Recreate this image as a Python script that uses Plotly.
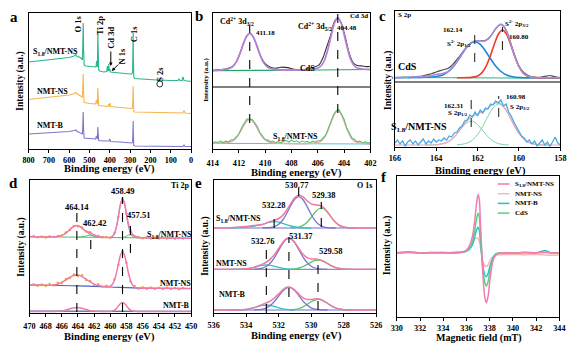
import plotly.graph_objects as go

FONT = "Liberation Serif"
W, H = 584, 348

# ---------------- data ----------------
# (a) survey spectra
a_e_s18 = [800,750,700,650,600,575,568,562,550,540,535,533,531,529,526,520,500,480,468,465,
           463,461,459,457,455,450,430,415,412,410,407,405,403,400,397,380,350,300,292,288,
           286,285,284,282,278,250,200,170,165,160,100,65,60,55,45,40,35,20,0]
a_y_s18 = [87,88,89,90,91.5,93,94.5,92.5,92,90.5,89,104,126,99,84,83,82.5,82,82,88,
           83,82,117,85,79,78,77,77.5,83,78,79,85,78,80,77,76.5,76,75,75,77,
           94,116,89,72,70.5,70,69.5,69,69.5,69,68.5,68.5,70,68.5,68.5,72,68.5,68,67.5]
a_e_ns = [800,750,700,650,600,575,568,560,550,540,535,533,531,529,526,500,470,466,463,461,
          459,457,455,430,410,405,402,399,396,350,300,292,288,286,285,284,282,278,200,100,
          60,40,35,30,0]
a_y_ns = [49.5,50.5,51.5,52.5,54,55.5,56.5,55,54,53,52,61,75,57,46.5,45.5,45,49,45,45,
          61,47,43.5,43,42.5,45,42.5,46,42.5,41.5,40.5,40.5,42,51,63,49,37.5,37,36.5,36.5,
          36,36,38.5,36,35.5]
a_e_b = [800,750,700,650,600,575,568,560,550,540,535,533,531,529,526,500,470,466,463,461,
         459,457,455,430,405,400,397,350,300,292,288,286,285,284,282,278,200,100,40,35,30,0]
a_y_b = [15,15.5,16,16.5,17.5,18.5,19,17.5,16.5,15.5,15,23,37,19,11,10.5,10,13,10,10,
         22,11,8.5,8,8,10,7.5,7,6,6,7,16,28,13,3.5,3,3,3,2.5,4,2.5,2.5]
a_labels = ["O 1s", "Ti 2p", "Cd 3d", "N 1s", "C 1s", "S 2s"]

# (b) Cd 3d
b_peaks = [411.18, 404.48]
b_e_fit = [414,413.5,413.18,412.68,412.43,412.18,411.93,411.68,411.43,411.18,410.93,410.68,410.43,
           410.18,409.93,409.68,409.18,408.5,407,405.98,405.73,405.48,405.23,404.98,404.73,404.48,
           404.23,403.98,403.73,403.48,403.23,402.98,402.48,402]
b_y_fit = [78.4,78.9,79.3,80.8,83.1,87.6,95.3,104.6,112.5,115.6,112.5,104.6,95.3,87.6,83.1,80.8,
           79.4,79.0,79.0,81,83.5,89,99.7,113.5,126,131,126,113.5,99.7,89,83.5,81,79.8,79.5]
b_e_raw = [414,413.5,413,412.5,412.2,411.9,411.6,411.4,411.18,410.9,410.6,410.3,410.0,409.6,409.2,
           408.8,408.3,407.8,407.3,406.8,406.3,405.9,405.6,405.3,405.0,404.75,404.48,404.2,403.9,
           403.6,403.3,403.0,402.6,402.3,402]
b_y_raw = [78.6,79.2,79.9,82.2,87.3,96.5,107.6,113,115.8,111.8,102,91.5,85.3,81.8,80.8,81.8,81.4,
           79.8,79.2,79.9,81.7,84.2,91.5,103,114.5,127,131.3,125.6,111.5,95.2,86.2,83.6,83,82.4,82.5]
b_e_bg = [414,410,406,402]
b_y_bg = [78.3,78.7,79.0,79.5]
b_e_bg2 = [414,402]
b_y_bg2 = [5.7,5.0]
b_e_fit2 = [414,413.18,412.68,412.43,412.18,411.93,411.68,411.43,411.18,410.93,410.68,410.43,410.18,
            409.93,409.68,409.18,407,405.98,405.73,405.48,405.23,404.98,404.73,404.48,404.23,403.98,
            403.73,403.48,403.23,402.98,402.48,402]
b_y_fit2 = [5.7,6.1,7.0,8.5,11.5,16.4,22.4,27.5,29.5,27.5,22.3,16.3,11.4,8.4,6.9,6.0,5.3,6.5,8.1,
            11.6,18.3,27.1,35.0,38.2,35.0,27.1,18.2,11.5,8.0,6.4,5.5,5.0]
b_e_raw2 = [414.0,413.8,413.6,413.4,413.2,413.0,412.8,412.6,412.4,412.2,412.0,411.8,411.6,411.4,
            411.2,411.0,410.8,410.6,410.4,410.2,410.0,409.8,409.6,409.4,409.2,409.0,408.8,408.6,
            408.4,408.2,408.0,407.8,407.6,407.4,407.2,407.0,406.8,406.6,406.4,406.2,406.0,405.8,
            405.6,405.4,405.2,405.0,404.8,404.6,404.4,404.2,404.0,403.8,403.6,403.4,403.2,403.0,
            402.8,402.6,402.4,402.2,402.0]
b_y_raw2 = [6.0,7.2,6.5,7.8,6.4,7.9,7.1,9.2,9.3,12.8,15.2,21.3,25.0,29.9,30.0,29.8,26.1,22.5,16.1,
            13.0,9.5,8.9,7.2,8.0,6.4,7.5,6.2,7.9,8.4,7.0,8.8,7.3,8.2,6.6,7.9,7.0,7.6,6.3,7.8,6.9,
            8.3,8.4,11.0,13.8,20.6,27.0,34.3,38.1,39.5,35.1,29.7,21.0,15.8,10.9,9.6,7.2,7.9,6.3,
            7.1,5.9,6.8]

# (c) S 2p
c_peaks_cds = [162.14, 160.80]
c_peaks_s18 = [162.31, 160.98]
c_e_bg = [166,158]
c_y_bg = [69.5,68.8]
c_e_p1 = [166,164.5,164.0,163.68,163.38,163.14,162.88,162.64,162.38,162.14,161.9,161.64,161.4,
          161.14,160.9,160.6,160.3,160.0,158]
c_y_p1 = [69.3,69.7,70.5,72,76,81.3,89,96.6,103.1,105.3,103.1,96.6,89,81.3,76,72,70.2,69.5,69.3]
c_e_p2 = [163,162.3,162.0,161.8,161.6,161.4,161.2,161.0,160.8,160.6,160.4,160.2,160.0,159.8,159.6,
          159.3,158]
c_y_p2 = [69.3,69.6,71.1,74.1,80.3,90.2,102.3,112.8,117,112.8,102.3,90.2,80.3,74.1,71.1,69.6,69.3]
c_e_env = [166,165.5,165,164.5,164.0,163.68,163.38,163.14,162.88,162.64,162.38,162.14,161.9,161.64,
           161.4,161.14,160.9,160.8,160.6,160.4,160.2,160.0,159.8,159.6,159.3,158]
c_y_env = [69.5,69.8,70.3,70.5,72.5,73.5,76,81.3,89,96.6,103.2,106,106.1,106,109.9,117.9,122.6,122,
           115.5,103.2,90.5,80.3,74.1,71.1,69.6,69.3]
c_e_raw = [166,165.6,165.2,164.8,164.5,164.2,164.0,163.7,163.4,163.14,162.9,162.64,162.38,162.14,
           161.9,161.64,161.4,161.14,160.9,160.8,160.6,160.4,160.2,160.0,159.8,159.5,159.2,159.0,
           158.7,158.5,158.3,158]
c_y_raw = [69.4,69.6,69.5,70.5,72,73.5,75,77,79,84,90,97,103,105.5,106.5,106.5,110,118,122.5,122,
           116,104,91,81,75,71,69.7,69.5,70.8,71.5,70.5,69.5]
c_e_env2 = [166,164.5,164,163.5,163.25,163.0,162.75,162.5,162.25,162.0,161.75,161.5,161.25,161.0,
            160.75,160.5,160.25,160.0,159.75,159.5,159.25,159.0,158]
c_y_env2 = [2,2,2.2,4.4,7.6,13.2,20.2,26.6,30.8,32.9,35.2,38.9,43,44.4,40.7,32.4,22.3,13.6,7.6,4.3,
            2.8,2.2,2]
c_e_a = [163,162.75,162.5,162.25,162.0,161.75,161.5,161.25,161.0,160.75,160.5,160.25,160.0,159.75,
         159.5,159.25,159,158.5]
c_y_a = [2.2,2.7,4,6.9,12.4,20.8,30.7,39.2,43,40.3,32.3,22.3,13.6,7.6,4.3,2.8,2.2,2]
c_e_b = [164.5,164.0,163.5,163.25,163.0,162.75,162.5,162.25,162.0,161.75,161.5,161.25,161.0,160.75,
         160.5]
c_y_b = [2,2.2,4.4,7.6,13,19.5,24.6,25.9,22.5,16.4,10.2,5.8,3.4,2.4,2]
c_e_raw2 = [166.0,165.875,165.75,165.625,165.5,165.375,165.25,165.125,165.0,164.875,164.75,164.625,
            164.5,164.375,164.25,164.125,164.0,163.875,163.75,163.625,163.5,163.375,163.25,163.125,
            163.0,162.875,162.75,162.625,162.5,162.375,162.25,162.125,162.0,161.875,161.75,161.625,
            161.5,161.375,161.25,161.125,161.0,160.875,160.75,160.625,160.5,160.375,160.25,160.125,
            160.0,159.875,159.75,159.625,159.5,159.375,159.25,159.125,159.0,158.875,158.75,158.625,
            158.5,158.375,158.25,158.125,158.0]
c_y_raw2 = [4,7,3,6,1,5,7,3,6,2,5,8,3,6,4,8,5,7,6,9,7,11,10,14,15,19,21,26,27,32,30,35,31,37,34,39,
            38,43,42,46,44,47,41,43,35,31,25,20,16,11,9,5,7,3,6,1,4,7,2,5,0.5,6,10,4,2]

# (d) Ti 2p
d_peaks = [464.14, 462.42, 458.49, 457.51]
d_e_env1 = [470,468,467,466.64,466.14,465.64,465.14,464.64,464.14,463.64,463.14,462.64,462.14,461.64,
            461.14,460.5,460,459.74,459.49,459.24,458.99,458.74,458.49,458.24,457.99,457.74,457.49,
            457.24,456.99,456.5,455,450]
d_y_env1 = [76.3,76.1,76.3,76.3,77.2,79.1,82.5,86.0,87.5,85.9,82.4,80.8,78.7,76.8,76.0,75.5,75.6,76.6,
            79.4,86.1,97.2,109.0,114.1,109.7,98.7,88.6,82.2,78.9,76.9,75.4,75.1,74.7]
d_e_c464 = [468,467,466.64,466.14,465.64,465.14,464.64,464.14,463.64,463.14,462.64,462.14,461.64,
            461.14,460.5]
d_y_c464 = [76.1,76.2,76.3,77.2,79.1,82.5,86.0,87.5,85.9,82.4,79.0,76.9,75.9,75.7,75.5]
d_e_c462 = [464,463.5,463,462.7,462.42,462.1,461.8,461.3,460.8]
d_y_c462 = [75.8,76.2,77.0,77.5,77.7,77.5,76.9,76.1,75.8]
d_e_c458 = [460.5,460,459.74,459.49,459.24,458.99,458.74,458.49,458.24,457.99,457.74,457.49,457.24,
            456.99,456.5]
d_y_c458 = [75.5,75.7,76.6,79.4,86.1,97.2,109.0,114.1,109.0,97.1,86.0,79.2,76.5,75.5,75.2]
d_e_c457 = [459,458.5,458.2,457.9,457.51,457.2,456.9,456.5,456]
d_y_c457 = [75.3,75.5,76.1,77.3,78.3,77.6,76.4,75.5,75.3]
d_e_bg1 = [470,450]
d_y_bg1 = [76.3,74.7]
d_e_env2 = [470,468,467.64,467.14,466.64,466.14,465.64,465.14,464.64,464.14,463.64,463.14,462.64,
            462.14,461.64,461.14,460.64,460.0,459.74,459.49,459.24,458.99,458.74,458.49,458.24,457.99,
            457.74,457.49,457.24,456.99,456.5,455,450]
d_y_env2 = [28,27.7,27.7,28.0,28.6,30.1,32.3,35.0,37.3,38.1,37.1,34.6,31.8,29.4,27.8,27.0,26.4,26.9,
            28.7,32.7,39.9,49.4,57.9,61.3,57.7,49.1,39.4,32.1,27.9,25.9,25.0,24.7,24.5]
d_e_bg2 = [470,464,460,456,450]
d_y_bg2 = [28,27.2,26,24.8,24.5]
d_e_dots = [469.5,469.0,468.5,468.0,467.5,467.0,466.5,466.0,465.5,465.0,464.5,464.0,463.5,463.0,462.5,
            462.0,461.5,461.0,460.5,460.0,459.5,459.0,458.5,458.0,457.5,457.0,456.5,456.0,455.5,455.0,
            454.5,454.0,453.5,453.0,452.5,452.0,451.5,451.0]
d_y_dots1 = [76.9,75.7,76.6,75.5,76.8,75.9,77.1,77.2,80.6,83.0,87.0,86.6,85.6,81.4,80.8,77.7,77.2,75.4,
             76.1,75.1,79.9,96.2,114.6,99.6,82.6,76.5,76.0,74.7,75.7,74.6,75.6,74.5,75.4,74.4,75.3,
             74.3,75.1,74.4]
d_y_dots2 = [28.8,27.2,28.5,27.0,28.9,27.6,30.2,30.0,34.1,35.0,38.6,37.0,37.7,33.0,32.0,28.0,28.7,26.0,
             27.2,26.1,33.4,48.2,61.8,50.3,31.6,26.9,24.2,25.7,24.0,25.4,24.0,25.3,23.9,25.2,24.0,25.1,
             23.8,24.9]
d_e_env3 = [470,467,466.14,465.64,465.14,464.64,464.14,463.64,463.14,462.64,462.14,461.14,460,459.49,
            459.24,458.99,458.74,458.49,458.24,457.99,457.74,457.49,457.0,455,450]
d_y_env3 = [1.5,1.5,1.9,2.6,3.8,5.0,5.5,5.0,3.8,2.6,1.9,1.5,1.6,2.8,4.5,7.1,9.5,10.5,9.5,7.1,4.5,2.8,
            1.7,1.5,1.5]
d_e_bg3 = [470,450]
d_y_bg3 = [1.8,1.6]
d_series = ["S<sub>1.8</sub>/NMT-NS", "NMT-NS", "NMT-B"]

# (e) O 1s
e_peaks_s18 = [532.28, 530.77, 529.38]
e_peaks_ns = [532.76, 531.37, 529.58]
e_e_env1 = [536,535,534.5,534,533.5,533,532.75,532.5,532.25,532,531.75,531.5,531.25,531,530.75,530.5,
            530.25,530,529.75,529.5,529.25,529,528.75,528.5,528.25,528,527.75,527,526]
e_y_env1 = [85,85.3,85.8,86.5,87.5,88.6,90.0,91.5,92.7,94.5,97.6,103.0,109.6,115.4,117.7,116.0,112.2,
            109.1,108.2,107.7,105.7,101.2,95.4,90.6,87.5,85.9,85.3,85,85]
e_e_p1 = [533,532.5,532.25,532,531.75,531.5,531.25,531,530.75,530.5,530.25,530,529.75,529.5,529.25,
          529,528.5]
e_y_p1 = [85.1,85.5,86.4,88.7,93.0,99.7,107.6,114.0,116.3,113.2,106.4,98.5,92.2,88.2,86.2,85.4,85.0]
e_e_g1 = [531.25,531,530.75,530.5,530.25,530,529.75,529.5,529.25,529,528.75,528.5,528.25,528,527.75,
          527.25]
e_y_g1 = [85.1,85.3,85.9,87.6,90.8,95.6,101.0,104.5,104.5,100.8,95.4,90.6,87.5,85.9,85.3,85.0]
e_e_c1 = [535,534.5,534,533.5,533,532.75,532.5,532.25,532,531.75,531.5,531.25,531,530.75,530.5,530]
e_y_c1 = [85.2,85.5,86.0,87.0,88.6,90.0,91.0,91.3,90.8,89.6,88.3,87.0,86.1,85.5,85.2,85.0]
e_e_env = [536,535,534.5,534,533.5,533.25,533,532.75,532.5,532.25,532,531.75,531.5,531.25,531,530.75,
           530.5,530.25,530,529.75,529.5,529.25,529,528.75,528.5,528.25,528,527.5,526]
e_y_env2 = [43.7,43.7,43.8,44.2,45.8,47.2,48.9,51.0,54.1,58.7,64.6,70.6,74.6,74.5,70.4,64.3,58.7,55.3,
            54.0,53.9,53.3,51.7,49.5,47.2,45.5,44.5,44.0,43.7,43.7]
e_y_env3 = [3,3,3.1,3.6,5.4,6.9,8.6,10.2,12.2,15.3,19.1,23.2,25.8,25.5,22.8,18.6,15.1,13.5,13.5,14.1,
            13.9,12.2,9.7,7.0,5.1,3.9,3.3,3,3]
e_e_p = [533.5,533,532.75,532.5,532.25,532,531.75,531.5,531.25,531,530.75,530.5,530.25,530,529.75,
         529.5,529]
e_y_p2 = [43.8,44.9,46.7,50.2,55.7,62.7,69.6,74.1,74.2,69.9,63.0,55.9,50.4,46.8,45.0,44.1,43.7]
e_y_p3 = [3.1,3.9,5.2,7.7,11.8,16.9,22.0,25.2,25.3,22.2,17.1,11.9,7.9,5.2,3.9,3.3,3.0]
e_e_g = [531.25,531,530.75,530.5,530.25,530,529.75,529.5,529.25,529,528.75,528.5,528.25,528,527.5]
e_y_g2 = [43.8,44.2,45.0,46.5,48.6,50.9,52.6,52.9,51.7,49.5,47.2,45.5,44.5,44.0,43.7]
e_y_g3 = [3.1,3.6,4.5,6.2,8.6,11.3,13.2,13.6,12.2,9.7,7.0,5.1,3.9,3.3,3.0]
e_e_c = [535,534.5,534,533.5,533.25,533,532.75,532.5,532.25,532,531.75,531.5,531.25,531]
e_y_c2 = [43.7,43.8,44.2,45.7,46.8,47.7,48.0,47.6,46.7,45.6,44.7,44.2,43.9,43.7]
e_y_c3 = [3,3.1,3.6,5.3,6.6,7.7,8.0,7.5,6.5,5.2,4.2,3.6,3.2,3.0]
e_e_bg = [536,526]
e_y_bg = [[85,85],[43.7,43.7],[3,3]]

# (f) EPR
f_field = [330,331,332,333,334,335,335.5,335.9,336.2,336.5,336.7,336.85,337.0,337.1,337.2,337.3,337.4,
           337.55,337.7,337.85,338.0,338.2,338.4,338.6,338.9,339.5,340,341,342,342.8,343.3,344]
f_s18 = [64.3,64.8,64.0,64.5,64.2,64.6,64.8,66,70,80,95,112,122.5,118,95,70,45,22,14.3,20,35,52,60,63,
         64,64.3,64.0,64.5,64.3,64.8,64.1,64.3]
f_ns = [64.5,64.6,64.2,64.3,64.5,64.2,64.5,65.5,68,73,78,79,78.7,76,70,62,56,52,50.3,52,56,59.5,61,62,
        62.3,62.5,62.5,62.3,62.5,62,61.8,62]
f_b = [64.0,65.0,64.0,64.3,64.5,64.0,64.5,65.5,67,72,80,86.5,89.7,87,76,63,52,43,40.3,43,50,57,61.5,
       63.5,64,64.3,64,64.4,64.2,66.5,64.0,64.2]
f_cds = [64.3,64.6,64.2,64.4,64.3,64.5,64.7,65.5,68,75,86,97,103.7,100.5,84,67,50,36,31,35,45,55,60.5,
         63,64,64.3,64.1,64.4,64.3,64.6,64.2,64.3]
f_names = ["S<sub>1.8</sub>/NMT-NS", "NMT-NS", "NMT-B", "CdS"]
f_colors = ["#f27db3", "#f4b9b4", "#22c3c9", "#5ccf82"]

# ---------------- figure ----------------
fig = go.Figure()

boxes = {'': (23, 189, 13, 149), '2': (211, 372, 13, 149), '3': (397, 566, 11, 147),
         '4': (24, 189, 180, 313), '5': (212, 378, 180, 313), '6': (399, 565, 176, 317)}
xranges = {'': [800, 0], '2': [414, 402], '3': [166, 158], '4': [470, 450], '5': [536, 526], '6': [330, 344]}
dticks = {'': 100, '2': 2, '3': 2, '4': 2, '5': 2, '6': 2}
standoffs = {'': 0, '2': 3, '3': 0, '4': 2, '5': 1, '6': 0}

for k, (l, r, t, b) in boxes.items():
    fig.layout['xaxis' + k] = dict(
        domain=[l / W, r / W], range=xranges[k], anchor='y' + k,
        showline=True, mirror=True, linecolor='black', linewidth=1,
        ticks='outside', ticklen=3, tickwidth=1, tickcolor='black', dtick=dticks[k],
        tickfont=dict(family=FONT, size=8.2, color='black', weight='bold'),
        showgrid=False, zeroline=False, ticklabelstandoff=standoffs[k])
    fig.layout['yaxis' + k] = dict(
        domain=[1 - b / H, 1 - t / H], range=[0, b - t], anchor='x' + k,
        showline=True, mirror=True, linecolor='black', linewidth=1,
        showticklabels=False, ticks='', showgrid=False, zeroline=False)


def line(ax, x, y, color, width=1.2, shape='spline', dash=None):
    fig.add_trace(go.Scatter(x=x, y=y, mode='lines',
                             line=dict(color=color, width=width, shape=shape, dash=dash, smoothing=0.8),
                             xaxis='x' + ax, yaxis='y' + ax, showlegend=False, hoverinfo='skip'))


def dots(ax, x, y, color, size=2.5):
    fig.add_trace(go.Scatter(x=x, y=y, mode='markers', marker=dict(color=color, size=size),
                             xaxis='x' + ax, yaxis='y' + ax, showlegend=False, hoverinfo='skip'))


def vdash(ax, x, y0, y1, width=1.1):
    fig.add_shape(type='line', xref='x' + ax, yref='y' + ax, x0=x, x1=x, y0=y0, y1=y1,
                  line=dict(color='black', width=width, dash='dash'))


def txt(px, py, s, size=8, angle=0, xanchor='center'):
    fig.add_annotation(x=px / W, y=1 - py / H, xref='paper', yref='paper', text=s, showarrow=False,
                       font=dict(family=FONT, size=size, color='black', weight='bold'),
                       textangle=angle, xanchor=xanchor, yanchor='middle', borderpad=0)


# (a)
line('', a_e_s18, a_y_s18, '#2bb48d', 1.1, 'linear')
line('', a_e_ns, a_y_ns, '#f5b54a', 1.1, 'linear')
line('', a_e_b, a_y_b, '#7d76c9', 1.1, 'linear')

# (b)
line('2', b_e_raw, b_y_raw, '#303030', 1.1)
line('2', b_e_bg, b_y_bg, '#20a86c', 1.2)
line('2', b_e_fit, b_y_fit, '#b583d6', 1.8)
line('2', b_e_bg2, b_y_bg2, '#4cc8ec', 1.2)
line('2', b_e_fit2, b_y_fit2, '#f2a7b8', 1.4)
line('2', b_e_raw2, b_y_raw2, '#5cc46a', 1.1, 'linear')
fig.add_shape(type='line', xref='x2 domain', yref='y2', x0=0, x1=1, y0=62, y1=62,
              line=dict(color='black', width=1))
vdash('2', b_peaks[0], 26, 124)
vdash('2', b_peaks[1], 36, 136)

# (c)
line('3', c_e_raw, c_y_raw, '#4a4a4a', 1.2)
line('3', c_e_bg, c_y_bg, '#2db57a', 1.2)
line('3', c_e_p1, c_y_p1, '#1a88d9', 1.6)
line('3', c_e_p2, c_y_p2, '#ef3a2a', 1.6)
line('3', c_e_env, c_y_env, '#a98bd6', 1.6)
line('3', c_e_a, c_y_a, '#7dd3a8', 1.0)
line('3', c_e_b, c_y_b, '#7dd3a8', 1.0)
line('3', c_e_env2, c_y_env2, '#f0a3b6', 1.2)
line('3', c_e_raw2, c_y_raw2, '#4aa8e6', 1.3, 'linear')
fig.add_shape(type='line', xref='x3 domain', yref='y3', x0=0, x1=1, y0=65, y1=65,
              line=dict(color='black', width=1))
vdash('3', c_peaks_cds[0], 85, 115, 0.9)
vdash('3', c_peaks_cds[1], 97, 120, 0.9)
vdash('3', c_peaks_s18[0], 20, 49, 0.9)
vdash('3', c_peaks_s18[1], 30, 51, 0.9)

# (d)
line('4', d_e_bg1, d_y_bg1, '#4cc06a', 1.0)
line('4', d_e_c464, d_y_c464, '#3cc0cc', 1.0)
line('4', d_e_c462, d_y_c462, '#4cc06a', 1.0)
line('4', d_e_c458, d_y_c458, '#8b7fd4', 1.0)
line('4', d_e_c457, d_y_c457, '#4cc06a', 1.0)
dots('4', d_e_dots, d_y_dots1, '#f5a83a')
line('4', d_e_env1, d_y_env1, '#f07aa6', 1.5)
line('4', d_e_bg2, d_y_bg2, '#4b63c8', 1.2)
dots('4', d_e_dots, d_y_dots2, '#f5a83a')
line('4', d_e_env2, d_y_env2, '#f07aa6', 1.5)
line('4', d_e_bg3, d_y_bg3, '#4b63c8', 1.2)
line('4', d_e_env3, d_y_env3, '#f07aa6', 1.5)
vdash('4', d_peaks[0], 1, 105)
vdash('4', d_peaks[2], 1, 116)
vdash('4', d_peaks[1], 64, 81)
vdash('4', d_peaks[3], 60, 96)

# (e)
for yb in e_y_bg:
    line('5', e_e_bg, yb, '#6f6fcf', 1.0)
line('5', e_e_c1, e_y_c1, '#34c2c8', 1.3)
line('5', e_e_g1, e_y_g1, '#5ac46c', 1.3)
line('5', e_e_p1, e_y_p1, '#7b74cc', 1.3)
line('5', e_e_env1, e_y_env1, '#f07aa6', 1.5)
line('5', e_e_c, e_y_c2, '#34c2c8', 1.3)
line('5', e_e_g, e_y_g2, '#5ac46c', 1.3)
line('5', e_e_p, e_y_p2, '#7b74cc', 1.3)
line('5', e_e_env, e_y_env2, '#f07aa6', 1.5)
line('5', e_e_c, e_y_c3, '#34c2c8', 1.3)
line('5', e_e_g, e_y_g3, '#5ac46c', 1.3)
line('5', e_e_p, e_y_p3, '#7b74cc', 1.3)
line('5', e_e_env, e_y_env3, '#f07aa6', 1.5)
vdash('5', e_peaks_s18[0], 85, 96)
vdash('5', e_peaks_s18[1], 117, 125)
vdash('5', e_peaks_s18[2], 86, 111)
vdash('5', e_peaks_ns[0], 0, 66)
vdash('5', e_peaks_ns[1], 16, 76)
vdash('5', e_peaks_ns[2], 3, 51)

# (f)
for ys, c in zip([f_ns, f_b, f_cds, f_s18], [f_colors[1], f_colors[2], f_colors[3], f_colors[0]]):
    line('6', f_field, ys, c, 1.5)

# legend for (f)
for i, (nm, c) in enumerate(zip(f_names, f_colors)):
    yy = 184 + i * 9.7
    fig.add_shape(type='line', xref='paper', yref='paper', x0=502 / W, x1=514 / W,
                  y0=1 - yy / H, y1=1 - yy / H, line=dict(color=c, width=1.5))
    txt(519, yy, nm, 7, xanchor='left')

# ---------------- texts ----------------
for lab, px, py in [("a", 8, 17), ("b", 197, 16), ("c", 384, 16), ("d", 8, 183), ("e", 197, 183), ("f", 386, 177)]:
    txt(px, py, lab, 15)

xt = "Binding energy (eV)"
yt = "Intensity (a.u.)"
txt(106, 169.5, xt, 10.5)
txt(297, 172.5, xt, 10.5)
txt(484, 171, xt, 10.5)
txt(106, 337, xt, 10.5)
txt(297, 336, xt, 10.5)
txt(483, 338, "Magnetic field (mT)", 10)
txt(15, 81, yt, 9.5, -90)
txt(204, 80, yt, 7, -90)
txt(391, 80, yt, 9.5, -90)
txt(15, 247, yt, 9.5, -90)
txt(203, 246, yt, 9.5, -90)
txt(390, 245, yt, 9.5, -90)

# (a) labels
txt(51, 52, "S<sub>1.8</sub>/NMT-NS", 8)
txt(47, 91, "NMT-NS", 8)
txt(45, 126, "NMT-B", 8)
for s, px, py in zip(a_labels, [74, 96, 107, 118, 131, 157], [24, 26, 38, 56, 34, 74]):
    txt(px, py, s, 8.5, -90)
fig.add_annotation(x=107 / W, y=1 - 66 / H, xref='paper', yref='paper', ax=0, ay=-16, text='',
                   showarrow=True, arrowhead=2, arrowsize=0.7, arrowwidth=1, arrowcolor='black')
fig.add_annotation(x=108 / W, y=1 - 71 / H, xref='paper', yref='paper', ax=8, ay=-8, text='',
                   showarrow=True, arrowhead=2, arrowsize=0.7, arrowwidth=1, arrowcolor='black')
fig.add_shape(type='circle', xref='paper', yref='paper', x0=154 / W, x1=160 / W, y0=1 - 87 / H,
              y1=1 - 81 / H, line=dict(color='black', width=0.8))

# (b) labels
txt(236, 22, "Cd<sup>2+</sup> 3d<sub>3/2</sub>", 8)
txt(265, 33, f"{b_peaks[0]:.2f}", 7)
txt(315, 27, "Cd<sup>2+</sup> 3d<sub>5/2</sub>", 8)
txt(348, 28, f"{b_peaks[1]:.2f}", 7)
txt(360, 16, "Cd 3d", 7)
txt(308, 68, "CdS", 8)
txt(296, 137, "S<sub>1.8</sub>/NMT-NS", 8)

# (c) labels
txt(407, 15, "S 2p", 7)
txt(456, 30, f"{c_peaks_cds[0]:.2f}", 7)
txt(463, 43, "S<sup>2-</sup> 2p<sub>1/2</sub>", 7)
txt(522, 23, "S<sup>2-</sup> 2p<sub>3/2</sub>", 7)
txt(524, 37, f"{c_peaks_cds[1]:.2f}", 7)
txt(410, 67, "CdS", 10)
txt(457, 106, f"{c_peaks_s18[0]:.2f}", 7)
txt(461, 113, "S 2p<sub>1/2</sub>", 7)
txt(521, 97, f"{c_peaks_s18[1]:.2f}", 7)
txt(525, 107, "S 2p<sub>3/2</sub>", 7)
txt(422, 127, "S<sub>1.8</sub>/NMT-NS", 10)

# (d) labels
txt(178, 185, "Ti 2p", 8)
txt(72, 207, f"{d_peaks[0]:.2f}", 8.5)
txt(90, 223, f"{d_peaks[1]:.2f}", 8.5)
txt(119, 191, f"{d_peaks[2]:.2f}", 8.5)
txt(135, 215, f"{d_peaks[3]:.2f}", 8.5)
txt(167, 235, d_series[0], 8)
txt(173, 283, d_series[1], 8)
txt(174, 305, d_series[2], 8)

# (e) labels
txt(366, 185, "O 1s", 8)
txt(273, 205, f"{e_peaks_s18[0]:.2f}", 8.5)
txt(297, 185, f"{e_peaks_s18[1]:.2f}", 8.5)
txt(324, 195, f"{e_peaks_s18[2]:.2f}", 8.5)
txt(262, 241, f"{e_peaks_ns[0]:.2f}", 8.5)
txt(301, 236, f"{e_peaks_ns[1]:.2f}", 8.5)
txt(331, 251, f"{e_peaks_ns[2]:.2f}", 8.5)
txt(237, 219, "S<sub>1.8</sub>/NMT-NS", 8)
txt(230, 263, "NMT-NS", 8)
txt(231, 294, "NMT-B", 8)

fig.update_layout(width=W, height=H, margin=dict(l=0, r=0, t=0, b=0),
                  paper_bgcolor='white', plot_bgcolor='white', showlegend=False,
                  font=dict(family=FONT, color='black'))

fig.write_html("out.html", config={'displayModeBar': False},
               post_script="document.body.style.margin='0';")
